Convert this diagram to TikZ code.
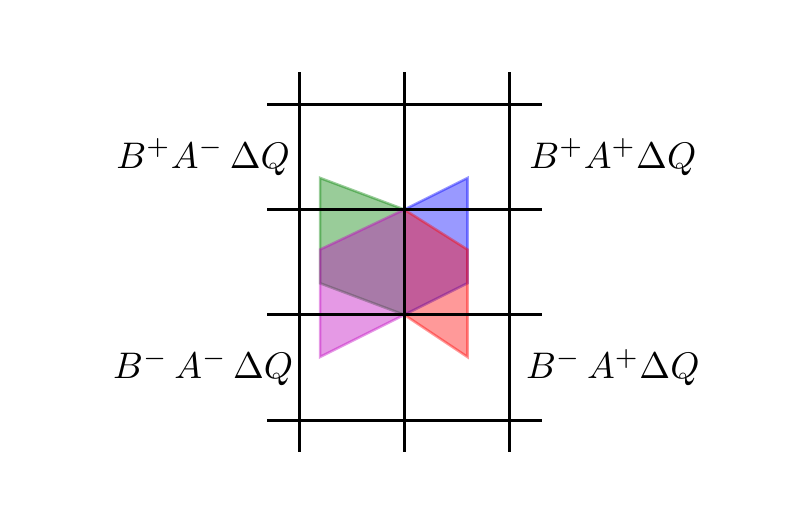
\documentclass[tikz,border=0pt]{standalone}
\usepackage{amsmath}
\usetikzlibrary{positioning}
\definecolor{PlotGreen}{RGB}{0,128,0}
\definecolor{PlotBlue}{RGB}{0,0,255}
\definecolor{PlotMagenta}{RGB}{191,0,191}
\definecolor{PlotRed}{RGB}{255,0,0}
\tikzset{
  region/.style={opacity=0.4,line width=0.7pt,line join=miter},
  gridline/.style={line width=0.8pt,black},
  quadlabel/.style={inner sep=0pt}
}

\begin{document}
\begin{tikzpicture}
\useasboundingbox (-2.84,-1.007) rectangle (4.663,3.99);
% shaded regions
\filldraw[region,draw=PlotGreen,fill=PlotGreen] (0.2,2.3) -- (1,2) -- (1,1) -- (0.2,1.3) -- cycle;
\filldraw[region,draw=PlotBlue,fill=PlotBlue] (1.6,2.3) -- (1,2) -- (1,1) -- (1.6,1.3) -- cycle;
\filldraw[region,draw=PlotMagenta,fill=PlotMagenta] (0.2,1.62) -- (1,2) -- (1,1) -- (0.2,0.6) -- cycle;
\filldraw[region,draw=PlotRed,fill=PlotRed] (1.6,1.62) -- (1,2) -- (1,1) -- (1.6,0.6) -- cycle;
% grid
\foreach \x in {0,1,2}{
  \draw[gridline] (\x,-0.3) -- (\x,3.31);
}
\foreach \y in {0,1,2,3}{
  \draw[gridline] (-0.3,\y) -- (2.31,\y);
}
% quadrant labels
\node[quadlabel] (lblTL) at (-0.91,2.5) {$B^+A^-\,\Delta Q$};
\node[quadlabel] (lblTR) at (2.98,2.5) {$B^+A^+\Delta Q$};
\node[quadlabel] (lblBL) at (-0.91,0.5) {$B^-\,A^-\,\Delta Q$};
\node[quadlabel] (lblBR) at (2.98,0.5) {$B^-\,A^+\Delta Q$};
\end{tikzpicture}
\end{document}
